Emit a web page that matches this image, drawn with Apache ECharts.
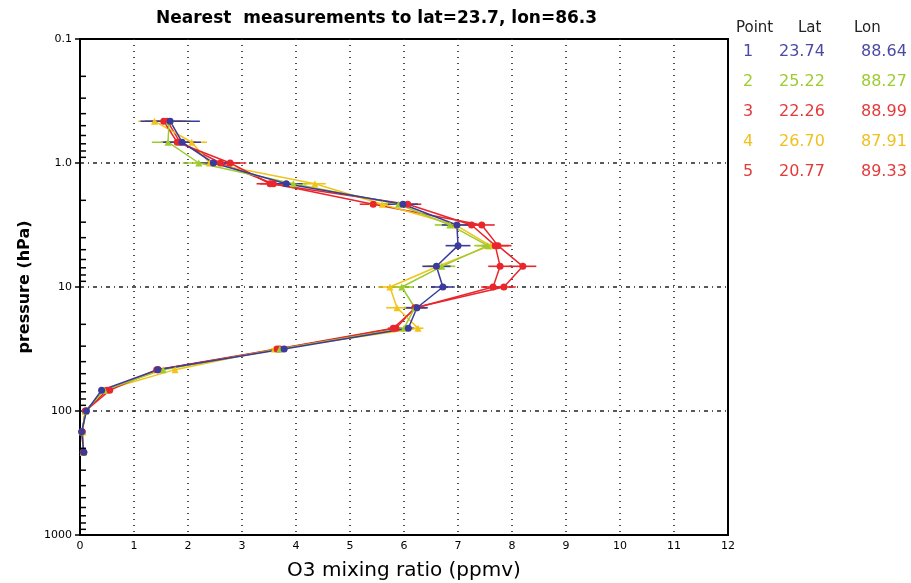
<!DOCTYPE html>
<html lang="en">
<head>
    <meta charset="UTF-8"/>
    <title>O3 profiles</title>
    <script src="https://cdn.jsdelivr.net/npm/echarts@6/dist/echarts.min.js"></script>
    <style>
        html, body { margin: 0; padding: 0; background: #fff; }
        #main { width: 911px; height: 583px; }
    </style>
</head>
<body>
<div id="main"></div>
<script type="text/javascript">
    // pressure levels (hPa)
    var pressure = [0.46, 0.68, 1.0, 1.47, 2.15, 3.16, 4.64, 6.81, 10, 14.7, 21.5, 31.6, 46.4, 68.1, 100, 147, 215];

    // O3 mixing ratio (ppmv) for each point
    var o3P1 = [1.67, 1.89, 2.47, 3.82, 5.98, 6.98, 7.00, 6.60, 6.72, 6.24, 6.08, 3.78, 1.44, 0.40, 0.12, 0.03, 0.07];
    var o3P2 = [1.65, 1.63, 2.20, 3.95, 5.90, 6.85, 7.55, 6.70, 5.96, 6.20, 6.00, 3.70, 1.54, 0.45, 0.10, 0.04, 0.06];
    var o3P3 = [1.55, 1.80, 2.78, 3.52, 6.07, 7.25, 7.69, 7.78, 7.65, 6.22, 5.80, 3.65, 1.42, 0.55, 0.10, 0.04, 0.06];
    var o3P4 = [1.38, 2.07, 2.40, 4.35, 5.60, 6.95, 7.60, 6.63, 5.74, 5.87, 6.26, 3.60, 1.76, 0.45, 0.10, 0.05, 0.06];
    var o3P5 = [1.62, 1.85, 2.60, 3.58, 5.43, 7.44, 7.74, 8.20, 7.85, 6.20, 5.85, 3.70, 1.45, 0.50, 0.10, 0.04, 0.07];

    // error half-widths (ppmv)
    var errP1 = [0.55, 0.35, 0.30, 0.30, 0.28, 0.28, 0.23, 0.26, 0.22, 0.20, 0.10, 0.06, 0.05, 0.03, 0.02, 0.02, 0.02];
    var errP2 = [0.40, 0.30, 0.30, 0.25, 0.25, 0.28, 0.25, 0.25, 0.22, 0.20, 0.10, 0.06, 0.05, 0.03, 0.02, 0.02, 0.02];
    var errP3 = [0.35, 0.30, 0.30, 0.25, 0.25, 0.24, 0.25, 0.22, 0.22, 0.20, 0.10, 0.06, 0.05, 0.03, 0.02, 0.02, 0.02];
    var errP4 = [0.30, 0.28, 0.30, 0.20, 0.25, 0.25, 0.25, 0.25, 0.22, 0.20, 0.10, 0.06, 0.05, 0.03, 0.02, 0.02, 0.02];
    var errP5 = [0.35, 0.30, 0.30, 0.25, 0.25, 0.24, 0.25, 0.25, 0.22, 0.20, 0.10, 0.06, 0.05, 0.03, 0.02, 0.02, 0.02];

    // legend table
    var pointIds = ['1', '2', '3', '4', '5'];
    var pointLat = ['23.74', '25.22', '22.26', '26.70', '20.77'];
    var pointLon = ['88.64', '88.27', '88.99', '87.91', '89.33'];
    var pointColors = ['#3b3b9c', '#9ccc2e', '#e8262c', '#f2c31a', '#e8262c'];
    var legendColors = ['#4a4aa6', '#9ccc2e', '#e33a3a', '#f0c020', '#e33a3a'];
    var pointSymbols = ['circle', 'triangle', 'circle', 'triangle', 'circle'];

    // y axis labels and minor ticks
    var yTickLabels = {'0.1': '0.1', '1': '1.0', '10': '10', '100': '100', '1000': '1000'};
    var decades = [0.1, 1, 10, 100];
    var minorSteps = [2, 3, 4, 5, 6, 7, 8, 9];

    var FONT = 'DejaVu Sans';
    var myChart = echarts.init(document.getElementById('main'));

    var allO3 = [o3P1, o3P2, o3P3, o3P4, o3P5];
    var allErr = [errP1, errP2, errP3, errP4, errP5];

    var series = [];
    var order = [4, 3, 2, 1, 0]; // point 1 drawn last, on top
    order.forEach(function (k) {
        var vals = allO3[k], errs = allErr[k];
        var errData = [];
        var lineData = [];
        for (var i = 0; i < pressure.length; i++) {
            errData.push([vals[i], pressure[i], errs[i]]);
            lineData.push([vals[i], pressure[i]]);
        }
        series.push({
            type: 'custom',
            name: 'err' + pointIds[k],
            data: errData,
            z: 2,
            silent: true,
            renderItem: function (params, api) {
                var x = api.value(0), y = api.value(1), e = api.value(2);
                var a = api.coord([x - e, y]);
                var b = api.coord([x + e, y]);
                return {
                    type: 'line',
                    shape: {x1: a[0], y1: a[1], x2: b[0], y2: b[1]},
                    style: {stroke: pointColors[k], lineWidth: 1.6}
                };
            }
        });
        series.push({
            type: 'line',
            name: 'Point ' + pointIds[k],
            data: lineData,
            z: 3,
            symbol: pointSymbols[k],
            symbolSize: 7,
            showAllSymbol: true,
            lineStyle: {color: pointColors[k], width: 1.5},
            itemStyle: {color: pointColors[k]}
        });
    });

    // minor ticks on pressure axis
    var minorData = [];
    decades.forEach(function (d) {
        minorSteps.forEach(function (s) { minorData.push([0, d * s]); });
    });
    series.push({
        type: 'custom',
        data: minorData,
        silent: true,
        clip: false,
        z: 5,
        renderItem: function (params, api) {
            var p = api.coord([api.value(0), api.value(1)]);
            return {
                type: 'line',
                shape: {x1: p[0], y1: p[1], x2: p[0] + 6, y2: p[1]},
                style: {stroke: '#000', lineWidth: 1.5}
            };
        }
    });

    // legend table as text
    var graphics = [
        {type: 'text', left: 736, top: 21, style: {text: 'Point', fill: '#222', font: '15px ' + FONT}},
        {type: 'text', left: 798, top: 21, style: {text: 'Lat', fill: '#222', font: '15px ' + FONT}},
        {type: 'text', left: 854, top: 21, style: {text: 'Lon', fill: '#222', font: '15px ' + FONT}}
    ];
    var rowY = [44, 74, 104, 134, 164];
    for (var r = 0; r < pointIds.length; r++) {
        graphics.push({type: 'text', left: 743, top: rowY[r], style: {text: pointIds[r], fill: legendColors[r], font: '16px ' + FONT}});
        graphics.push({type: 'text', left: 779, top: rowY[r], style: {text: pointLat[r], fill: legendColors[r], font: '16px ' + FONT}});
        graphics.push({type: 'text', left: 861, top: rowY[r], style: {text: pointLon[r], fill: legendColors[r], font: '16px ' + FONT}});
    }

    var option = {
        backgroundColor: '#fff',
        animation: false,
        title: {
            text: 'Nearest  measurements to lat=23.7, lon=86.3',
            left: 151,
            top: 5,
            textStyle: {fontFamily: FONT, fontSize: 17, fontWeight: 'bold', color: '#000'}
        },
        grid: {
            left: 80, right: 183, top: 39, bottom: 48,
            outerBoundsMode: 'none',
            show: true, borderColor: '#000', borderWidth: 2
        },
        xAxis: {
            type: 'value',
            min: 0, max: 12, interval: 1,
            name: 'O3 mixing ratio (ppmv)',
            nameLocation: 'middle',
            nameGap: 26,
            nameTextStyle: {fontFamily: FONT, fontSize: 20, color: '#000'},
            axisLine: {show: true, lineStyle: {color: '#000', width: 2}},
            axisTick: {show: false},
            axisLabel: {fontFamily: FONT, fontSize: 11, color: '#000', margin: 6},
            splitLine: {show: true, showMinLine: false, showMaxLine: false,
                lineStyle: {color: '#222', type: [1, 5], width: 1.6}}
        },
        yAxis: {
            type: 'log',
            logBase: 10,
            min: 0.1, max: 1000,
            inverse: true,
            name: 'pressure (hPa)',
            nameLocation: 'middle',
            nameGap: 46,
            nameTextStyle: {fontFamily: FONT, fontSize: 16, fontWeight: 'bold', color: '#000'},
            axisLine: {show: true, onZero: false, lineStyle: {color: '#000', width: 2}},
            axisTick: {show: true, length: 5, lineStyle: {color: '#000', width: 1.5}},
            axisLabel: {
                fontFamily: FONT, fontSize: 11, color: '#000', margin: 8,
                formatter: function (v) {
                    var key = String(Math.round(v * 10) / 10);
                    return yTickLabels[key] !== undefined ? yTickLabels[key] : '';
                }
            },
            splitLine: {show: true, showMinLine: false, showMaxLine: false,
                lineStyle: {color: '#222', type: [4, 4, 1, 4], width: 1.5}}
        },
        graphic: graphics,
        series: series
    };

    myChart.setOption(option);
</script>
</body>
</html>
